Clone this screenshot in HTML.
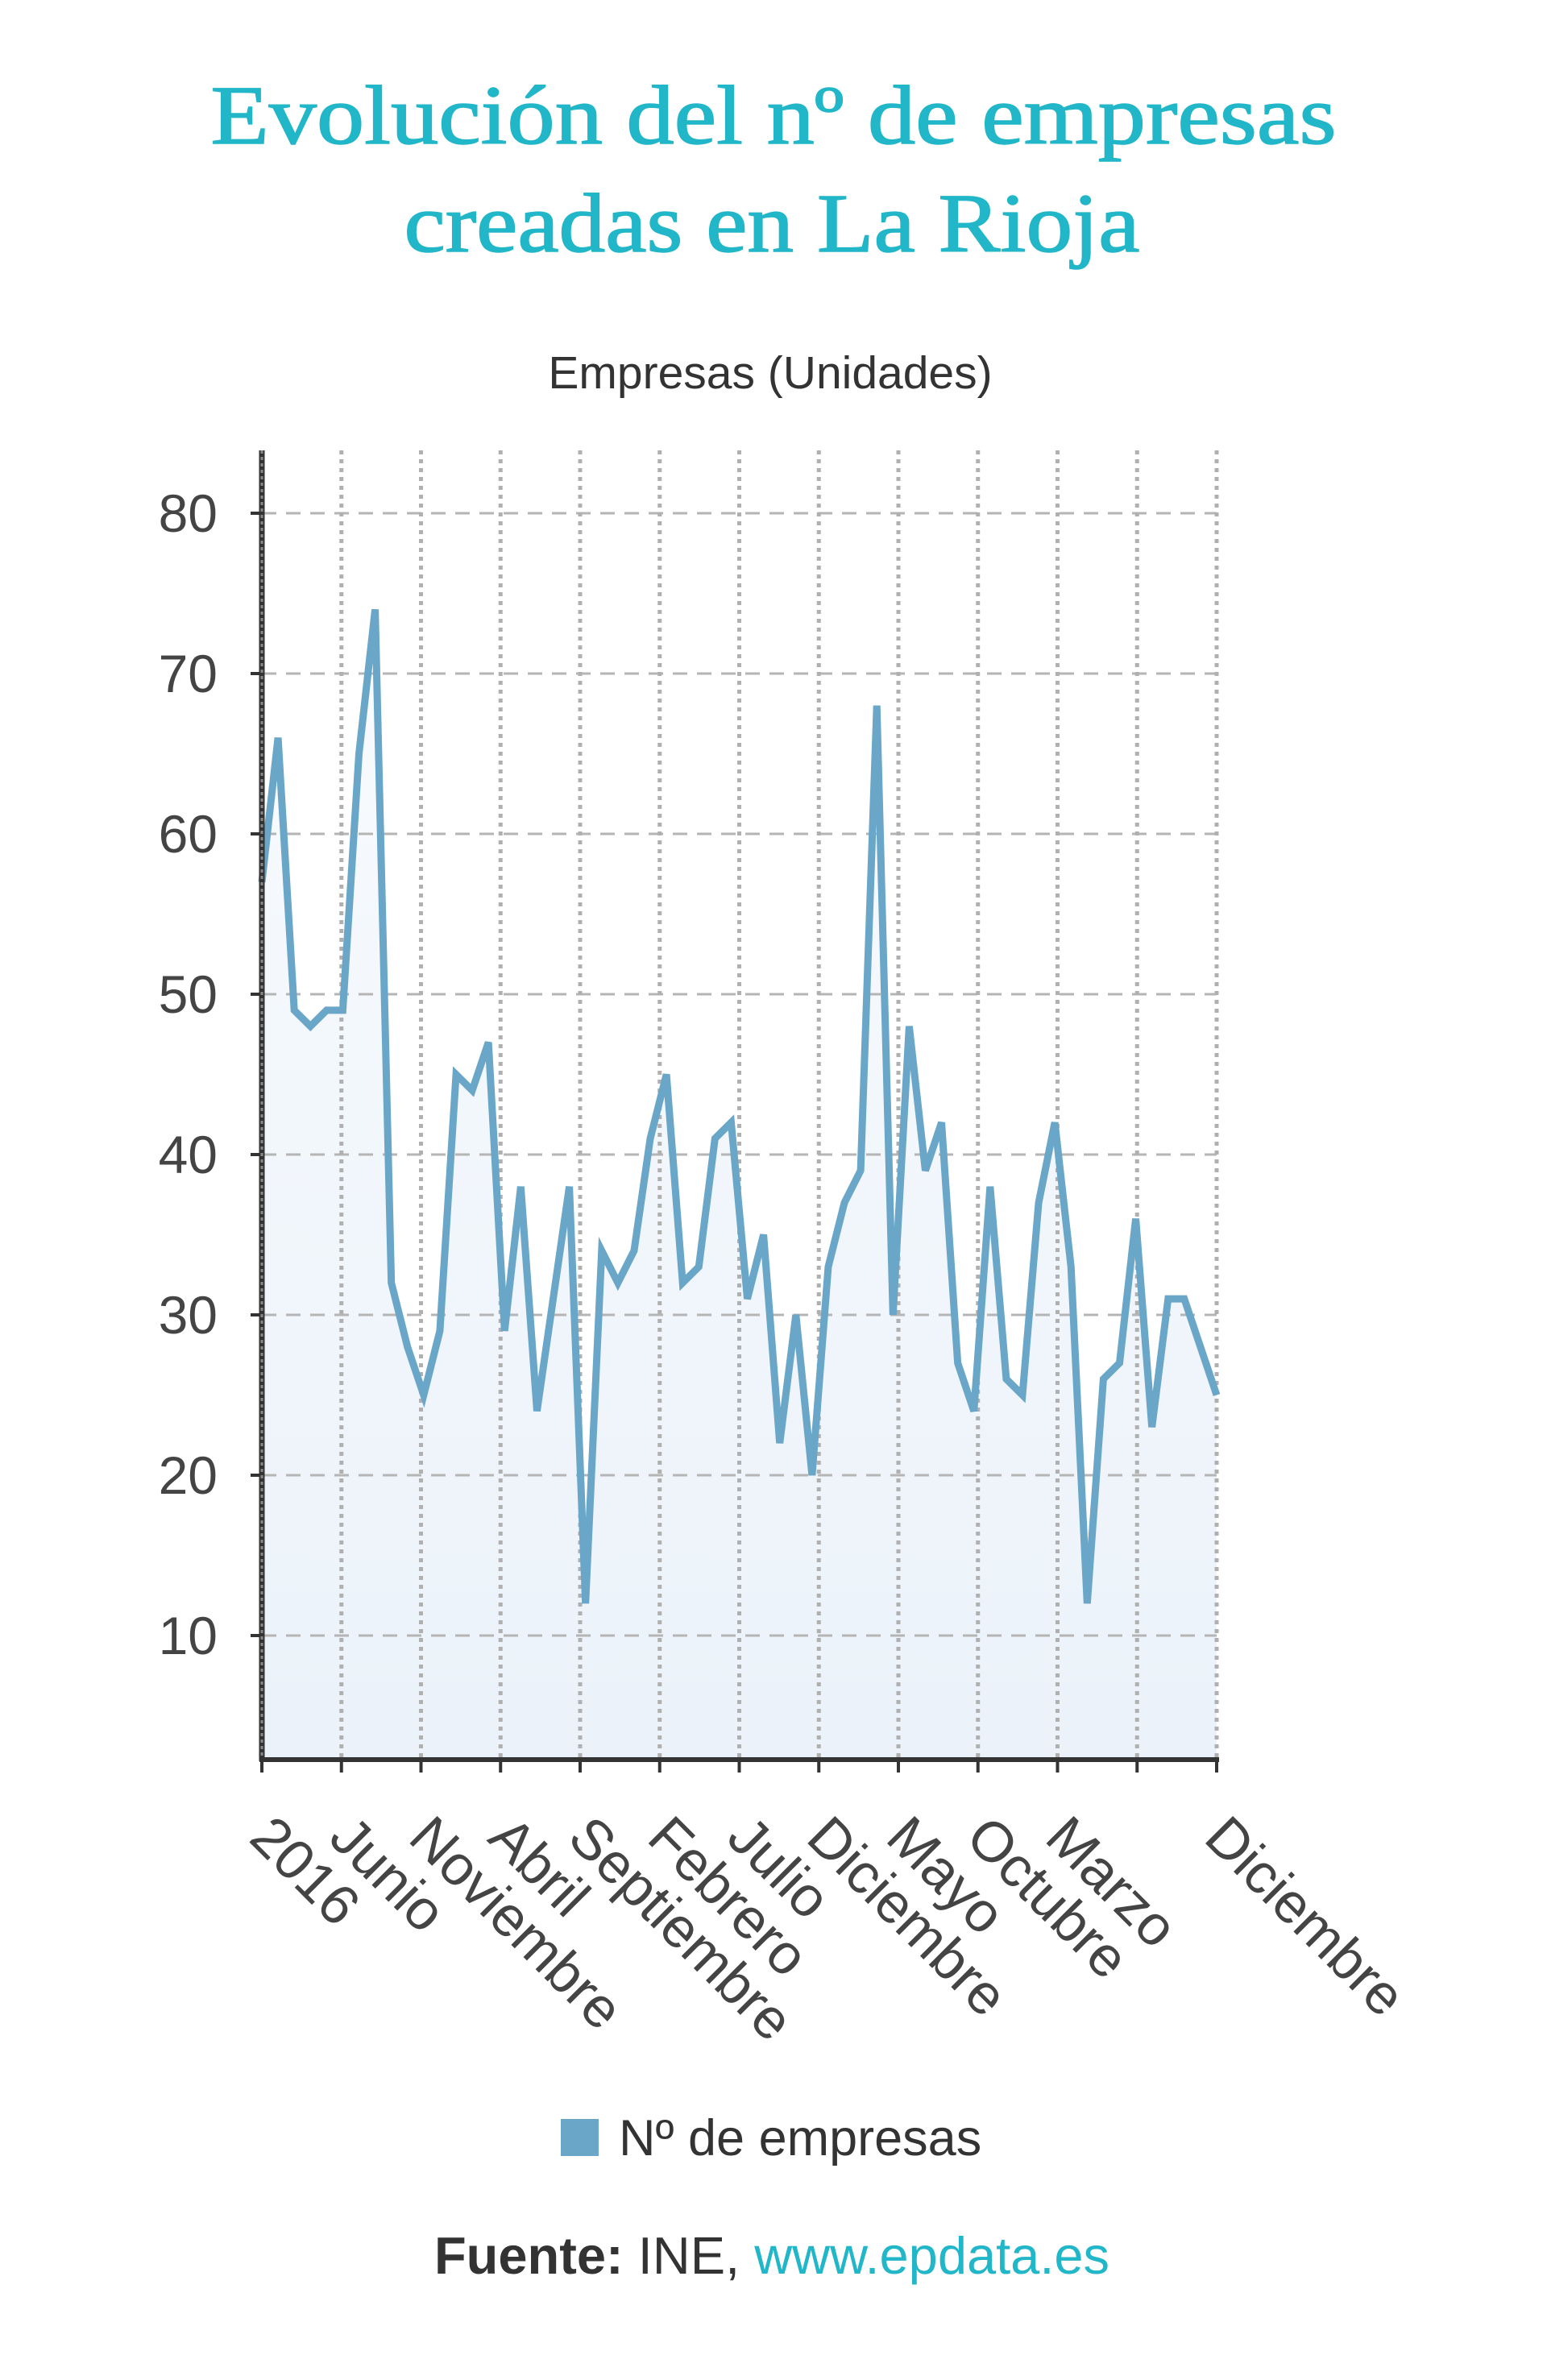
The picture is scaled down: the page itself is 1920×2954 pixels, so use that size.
<!DOCTYPE html>
<html><head><meta charset="utf-8">
<style>
html,body{margin:0;padding:0;background:#fff;}
body{width:1920px;height:2954px;position:relative;overflow:hidden;}
svg{position:absolute;left:0;top:0;}
</style></head>
<body>
<svg width="1920" height="2954" viewBox="0 0 1920 2954">
<defs>
<linearGradient id="fillg" x1="0" y1="0" x2="0" y2="1">
<stop offset="0" stop-color="#f8fbfe"/><stop offset="1" stop-color="#ebf2f9"/>
</linearGradient>
</defs>
<text x="960" y="178" text-anchor="middle" textLength="1397" lengthAdjust="spacingAndGlyphs" font-family="Liberation Serif, serif" font-size="104" fill="#21b6c8" stroke="#21b6c8" stroke-width="1.5">Evolución del nº de empresas</text>
<text x="958" y="312" text-anchor="middle" textLength="913" lengthAdjust="spacingAndGlyphs" font-family="Liberation Serif, serif" font-size="104" fill="#21b6c8" stroke="#21b6c8" stroke-width="1.5">creadas en La Rioja</text>
<text x="956" y="482" text-anchor="middle" font-family="Liberation Sans, sans-serif" font-size="57" fill="#333">Empresas (Unidades)</text>
<g id="plot"></g>
<rect x="696" y="2630" width="47" height="46" fill="#6aa6c8"/>
<text x="768" y="2675" font-family="Liberation Sans, sans-serif" font-size="63" fill="#333">Nº de empresas</text>
<text x="958" y="2822" text-anchor="middle" font-family="Liberation Sans, sans-serif" font-size="65" fill="#333"><tspan font-weight="bold">Fuente:</tspan> INE, <tspan fill="#21b6c8">www.epdata.es</tspan></text>
</svg>
<script>
const values = [57,66,49,48,49,49,65,74,32,28,25,29,45,44,47,29,38,24,31,38,12,34,32,34,41,45,32,33,41,42,31,35,22,30,20,33,37,39,68,30,48,39,42,27,24,38,26,25,37,42,33,12,26,27,36,23,31,31,28,25];
const yTicks = [10,20,30,40,50,60,70,80];
const xLabels = ["2016","Junio","Noviembre","Abril","Septiembre","Febrero","Julio","Diciembre","Mayo","Octubre","Marzo","","Diciembre"];

const NS = "http://www.w3.org/2000/svg";
const L = 325, R = 1510, TOP = 559, BOT = 2184;
const yS = v => 637 + (80 - v) * 19.9;
const xS = i => L + i * (R - L) / (values.length - 1);
const gx = k => L + k * (R - L) / (xLabels.length - 1);
const plot = document.getElementById('plot');
function mk(tag, attrs){const e=document.createElementNS(NS,tag);for(const k in attrs)e.setAttribute(k,attrs[k]);plot.appendChild(e);return e;}

let d = `M${xS(0)},${BOT}`;
values.forEach((v,i)=>{d+=` L${xS(i)},${yS(v)}`;});
d += ` L${xS(values.length-1)},${BOT} Z`;
const area = mk('path',{d:d,fill:'url(#fillg)'});



yTicks.forEach(t=>{
  const g = mk('line',{x1:L,x2:R,y1:yS(t),y2:yS(t),stroke:'#b5b5b5','stroke-width':3,'stroke-dasharray':'18 12'});
  
  
  const tk = mk('line',{x1:L-14,x2:L,y1:yS(t),y2:yS(t),stroke:'#333','stroke-width':4});
  
  
  const lb = mk('text',{x:270,y:yS(t)+23,'text-anchor':'end','font-family':'Liberation Sans, sans-serif','font-size':66,fill:'#444'});
  lb.textContent = t;
  
  
});

xLabels.forEach((s,k)=>{
  const x = gx(k);
  if(k>0){
    const g = mk('line',{x1:x,x2:x,y1:TOP,y2:BOT,stroke:'#b0b0b0','stroke-width':5,'stroke-dasharray':'5 6'});
    
    
  }
  const tk = mk('line',{x1:x,x2:x,y1:BOT,y2:BOT+16,stroke:'#333','stroke-width':4});
  
  
  if(s){
    const lx = x-18, ly = BOT+100;
    const lb = mk('text',{x:lx,y:ly,transform:`rotate(45 ${lx} ${ly})`,'font-family':'Liberation Sans, sans-serif','font-size':70,fill:'#444'});
    lb.textContent = s;
    
    
  }
});

let ld = '';
values.forEach((v,i)=>{ld += (i?' L':'M')+xS(i)+','+yS(v);});
const line = mk('path',{d:ld,fill:'none',stroke:'#6aa6c8','stroke-width':9,'stroke-linejoin':'miter'});



const ya = mk('line',{x1:L,x2:L,y1:TOP,y2:BOT+2,stroke:'#333','stroke-width':7});


const yd = mk('line',{x1:L,x2:L,y1:TOP,y2:BOT,stroke:'#888','stroke-width':3,'stroke-dasharray':'4 4'});


const xa = mk('line',{x1:L-3,x2:R+3,y1:BOT,y2:BOT,stroke:'#333','stroke-width':6});


</script>
</body></html>
